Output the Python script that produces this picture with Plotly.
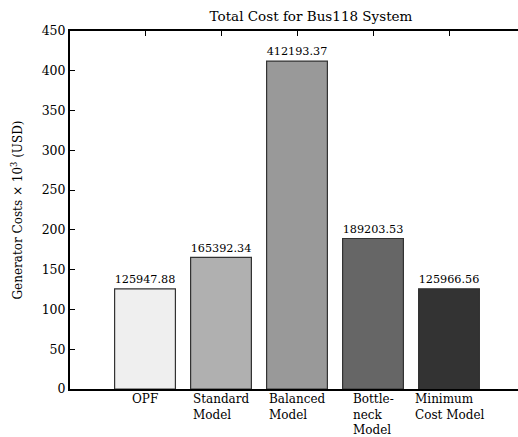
import plotly.graph_objects as go

# Total generator cost per model (USD)
models = ["OPF", "Standard<br>Model", "Balanced<br>Model", "Bottle-<br>neck<br>Model", "Minimum<br>Cost Model"]
costs = [125947.88, 165392.34, 412193.37, 189203.53, 125966.56]
bar_colors = ["#efefef", "#b0b0b0", "#999999", "#666666", "#333333"]
y_ticks = [0, 50, 100, 150, 200, 250, 300, 350, 400, 450]

FONT = "DejaVu Serif"
positions = list(range(len(models)))
costs_k = [c / 1000 for c in costs]

fig = go.Figure()
fig.add_trace(go.Bar(
    x=positions,
    y=costs_k,
    width=0.8,
    marker=dict(color=bar_colors, line=dict(color="#333333", width=1.2)),
    text=[f"{c:.2f}" for c in costs],
    textposition="outside",
    textfont=dict(family=FONT, size=13, color="black"),
    cliponaxis=False,
    showlegend=False,
))
# invisible trace carrying the top tick axis
fig.add_trace(go.Scatter(x=positions, y=[0] * len(positions), xaxis="x2",
                         mode="markers", marker=dict(opacity=0), showlegend=False,
                         hoverinfo="skip"))

x_range = [-0.987, 4.908]

for i, label in enumerate(models):
    fig.add_annotation(x=i, y=-0.006, xref="x", yref="paper", text=label,
                       showarrow=False, xanchor="center", yanchor="top", align="left",
                       font=dict(family=FONT, size=12, color="black"), borderpad=0)

fig.update_layout(
    width=518, height=437,
    margin=dict(l=70, r=0, t=31, b=48),
    plot_bgcolor="white", paper_bgcolor="white",
    bargap=0.2,
    font=dict(family=FONT, size=12, color="black"),
    title=dict(text="Total Cost for Bus118 System", x=311 / 518, xref="container",
               xanchor="center", y=1 - 16 / 437, yanchor="middle",
               font=dict(family=FONT, size=13.5, color="black")),
    xaxis=dict(range=x_range, tickvals=positions, showticklabels=False, ticks="",
               showline=True, linecolor="black", linewidth=2, mirror=True,
               showgrid=False, zeroline=False),
    xaxis2=dict(range=x_range, overlaying="x", side="top", tickvals=positions,
                ticks="inside", ticklen=5, tickcolor="black", tickwidth=1,
                showticklabels=False, showline=False, showgrid=False, zeroline=False),
    yaxis=dict(range=[0, 450], tickvals=y_ticks, ticks="inside", ticklen=5,
               tickcolor="black", tickwidth=1, showline=True, linecolor="black",
               linewidth=2, showgrid=False, zeroline=False,
               tickfont=dict(family=FONT, size=12.5, color="black"),
               title=dict(text="Generator Costs × 10<sup>3</sup> (USD)", standoff=16,
                          font=dict(family=FONT, size=12, color="black"))),
)

fig.write_html("out.html")
